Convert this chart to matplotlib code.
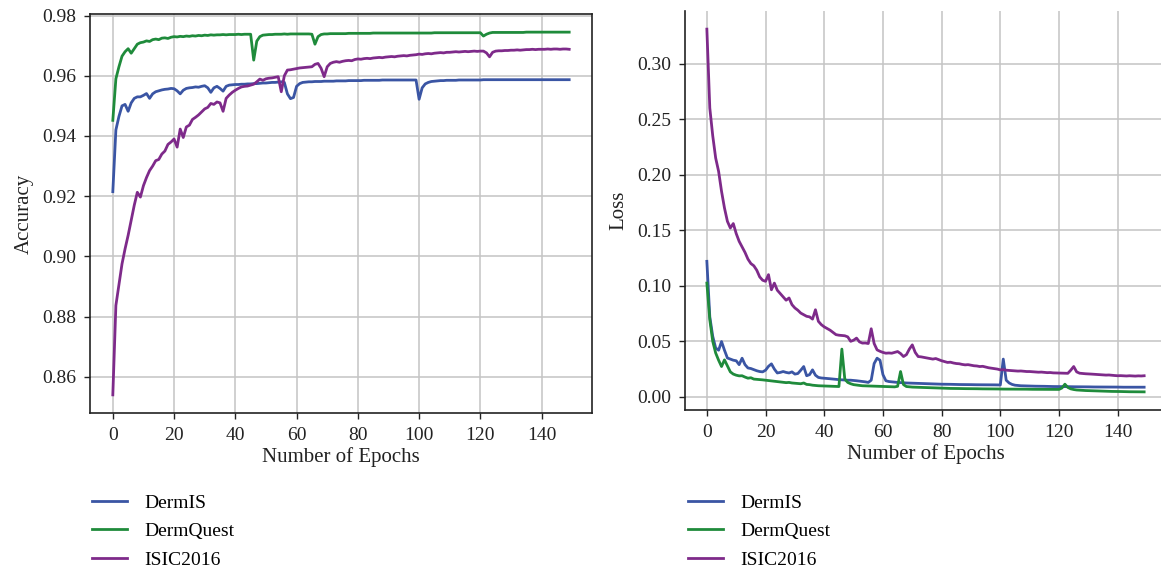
import matplotlib
matplotlib.use("Agg")
import matplotlib.pyplot as plt
import numpy as np

plt.rcParams['font.family'] = ['Liberation Serif', 'DejaVu Serif']

epochs = list(range(150))
series_names = ["DermIS", "DermQuest", "ISIC2016"]
series_colors = ["#3a55a4", "#1f8b3b", "#7e2a8a"]
x_ticks = [0, 20, 40, 60, 80, 100, 120, 140]
acc_ticks = [0.86, 0.88, 0.90, 0.92, 0.94, 0.96, 0.98]
loss_ticks = [0.00, 0.05, 0.10, 0.15, 0.20, 0.25, 0.30]

acc_dermis = [
    0.9215, 0.9420, 0.9465, 0.9500, 0.9505, 0.9482, 0.9510, 0.9525, 0.9530, 0.9530,
    0.9535, 0.9541, 0.9525, 0.9540, 0.9547, 0.9550, 0.9553, 0.9555, 0.9556, 0.9558,
    0.9557, 0.9550, 0.9540, 0.9552, 0.9558, 0.9560, 0.9561, 0.9563, 0.9562, 0.9565,
    0.9567, 0.9560, 0.9545, 0.9560, 0.9565, 0.9558, 0.9549, 0.9565, 0.9569, 0.9570,
    0.9571, 0.9571, 0.9572, 0.9572, 0.9573, 0.9573, 0.9574, 0.9574, 0.9575, 0.9576,
    0.9576, 0.9577, 0.9578, 0.9578, 0.9579, 0.9580, 0.9578, 0.9540, 0.9524, 0.9528,
    0.9565, 0.9574, 0.9578, 0.9579, 0.9580, 0.9580, 0.9581, 0.9581, 0.9581, 0.9582,
    0.9582, 0.9582, 0.9582, 0.9583, 0.9583, 0.9583, 0.9583, 0.9584, 0.9584, 0.9584,
    0.9584, 0.9584, 0.9585, 0.9585, 0.9585, 0.9585, 0.9585, 0.9585, 0.9586, 0.9586,
    0.9586, 0.9586, 0.9586, 0.9586, 0.9586, 0.9586, 0.9586, 0.9586, 0.9586, 0.9586,
    0.9522, 0.9560, 0.9573, 0.9578, 0.9581, 0.9582, 0.9583, 0.9584, 0.9584, 0.9585,
    0.9585, 0.9585, 0.9585, 0.9586, 0.9586, 0.9586, 0.9586, 0.9586, 0.9586, 0.9586,
    0.9586, 0.9587, 0.9587, 0.9587, 0.9587, 0.9587, 0.9587, 0.9587, 0.9587, 0.9587,
    0.9587, 0.9587, 0.9587, 0.9587, 0.9587, 0.9587, 0.9587, 0.9587, 0.9587, 0.9587,
    0.9587, 0.9587, 0.9587, 0.9587, 0.9587, 0.9587, 0.9587, 0.9587, 0.9587, 0.9587,
]

acc_dermquest = [
    0.9452, 0.9590, 0.9630, 0.9665, 0.9680, 0.9690, 0.9675, 0.9690, 0.9705, 0.9710,
    0.9712, 0.9716, 0.9714, 0.9720, 0.9722, 0.9720, 0.9725, 0.9726, 0.9724, 0.9728,
    0.9730, 0.9729, 0.9731, 0.9730, 0.9732, 0.9731, 0.9733, 0.9732, 0.9734, 0.9733,
    0.9735, 0.9734, 0.9736, 0.9735, 0.9736, 0.9736, 0.9737, 0.9736, 0.9737, 0.9737,
    0.9737, 0.9738, 0.9737, 0.9738, 0.9738, 0.9738, 0.9652, 0.9715, 0.9730, 0.9735,
    0.9736, 0.9737, 0.9737, 0.9738, 0.9738, 0.9738, 0.9739, 0.9738, 0.9739, 0.9739,
    0.9739, 0.9739, 0.9739, 0.9739, 0.9739, 0.9738, 0.9705, 0.9730, 0.9737, 0.9739,
    0.9739, 0.9740, 0.9740, 0.9740, 0.9740, 0.9740, 0.9740, 0.9741, 0.9741, 0.9741,
    0.9741, 0.9741, 0.9741, 0.9741, 0.9741, 0.9742, 0.9742, 0.9742, 0.9742, 0.9742,
    0.9742, 0.9742, 0.9742, 0.9742, 0.9742, 0.9742, 0.9742, 0.9742, 0.9742, 0.9742,
    0.9742, 0.9742, 0.9742, 0.9742, 0.9742, 0.9743, 0.9743, 0.9743, 0.9743, 0.9743,
    0.9743, 0.9743, 0.9743, 0.9743, 0.9743, 0.9743, 0.9743, 0.9743, 0.9743, 0.9743,
    0.9743, 0.9732, 0.9738, 0.9742, 0.9744, 0.9744, 0.9744, 0.9744, 0.9744, 0.9744,
    0.9744, 0.9744, 0.9744, 0.9744, 0.9744, 0.9745, 0.9745, 0.9745, 0.9745, 0.9745,
    0.9745, 0.9745, 0.9745, 0.9745, 0.9745, 0.9745, 0.9745, 0.9745, 0.9745, 0.9745,
]

acc_isic = [
    0.8540, 0.8837, 0.8905, 0.8975, 0.9025, 0.9070, 0.9120, 0.9170, 0.9213, 0.9197,
    0.9235, 0.9262, 0.9285, 0.9300, 0.9318, 0.9322, 0.9340, 0.9350, 0.9372, 0.9380,
    0.9390, 0.9363, 0.9423, 0.9395, 0.9430, 0.9436, 0.9455, 0.9462, 0.9470, 0.9480,
    0.9490, 0.9495, 0.9508, 0.9505, 0.9513, 0.9510, 0.9482, 0.9525, 0.9536, 0.9545,
    0.9552, 0.9558, 0.9563, 0.9565, 0.9566, 0.9569, 0.9572, 0.9580, 0.9589, 0.9585,
    0.9590, 0.9592, 0.9593, 0.9595, 0.9597, 0.9547, 0.9600, 0.9619, 0.9620, 0.9622,
    0.9624, 0.9626, 0.9627, 0.9628, 0.9629, 0.9630, 0.9638, 0.9641, 0.9625, 0.9597,
    0.9630, 0.9641, 0.9645, 0.9647, 0.9645, 0.9648, 0.9650, 0.9651, 0.9650, 0.9654,
    0.9656, 0.9655, 0.9657, 0.9658, 0.9657, 0.9659, 0.9660, 0.9661, 0.9660, 0.9662,
    0.9663, 0.9664, 0.9663, 0.9665, 0.9666, 0.9667, 0.9666, 0.9668, 0.9669, 0.9670,
    0.9672, 0.9671, 0.9673, 0.9674, 0.9673, 0.9675, 0.9676, 0.9677, 0.9676, 0.9678,
    0.9678, 0.9679, 0.9680, 0.9679, 0.9680, 0.9681, 0.9680, 0.9681, 0.9682, 0.9681,
    0.9682, 0.9682, 0.9676, 0.9663, 0.9678, 0.9682, 0.9683, 0.9683, 0.9684, 0.9684,
    0.9685, 0.9685, 0.9686, 0.9685, 0.9686, 0.9687, 0.9687, 0.9688, 0.9687, 0.9688,
    0.9688, 0.9688, 0.9689, 0.9688, 0.9689, 0.9689, 0.9688, 0.9689, 0.9689, 0.9688,
]

loss_dermis = [
    0.1220, 0.0720, 0.0545, 0.0440, 0.0420, 0.0498, 0.0420, 0.0350, 0.0340, 0.0330,
    0.0325, 0.0290, 0.0348, 0.0290, 0.0260, 0.0255, 0.0245, 0.0235, 0.0228, 0.0225,
    0.0240, 0.0275, 0.0297, 0.0250, 0.0215, 0.0220, 0.0228, 0.0220, 0.0215, 0.0225,
    0.0205, 0.0210, 0.0240, 0.0273, 0.0190, 0.0200, 0.0243, 0.0195, 0.0175, 0.0170,
    0.0168, 0.0165, 0.0163, 0.0160, 0.0158, 0.0155, 0.0153, 0.0152, 0.0150, 0.0150,
    0.0148, 0.0145, 0.0142, 0.0140, 0.0135, 0.0130, 0.0150, 0.0300, 0.0348, 0.0330,
    0.0200, 0.0145, 0.0138, 0.0135, 0.0133, 0.0130, 0.0128, 0.0127, 0.0125, 0.0124,
    0.0123, 0.0122, 0.0121, 0.0120, 0.0119, 0.0118, 0.0117, 0.0116, 0.0115, 0.0115,
    0.0114, 0.0114, 0.0113, 0.0113, 0.0112, 0.0112, 0.0111, 0.0111, 0.0110, 0.0110,
    0.0110, 0.0109, 0.0109, 0.0109, 0.0108, 0.0108, 0.0108, 0.0108, 0.0108, 0.0107,
    0.0107, 0.0340, 0.0150, 0.0125, 0.0112, 0.0105, 0.0102, 0.0100, 0.0099, 0.0098,
    0.0097, 0.0097, 0.0096, 0.0096, 0.0095, 0.0095, 0.0094, 0.0094, 0.0093, 0.0093,
    0.0093, 0.0092, 0.0092, 0.0092, 0.0091, 0.0091, 0.0091, 0.0090, 0.0090, 0.0090,
    0.0090, 0.0089, 0.0089, 0.0089, 0.0089, 0.0088, 0.0088, 0.0088, 0.0088, 0.0088,
    0.0088, 0.0087, 0.0087, 0.0087, 0.0087, 0.0087, 0.0087, 0.0087, 0.0087, 0.0087,
]

loss_dermquest = [
    0.1024, 0.0694, 0.0500, 0.0395, 0.0330, 0.0273, 0.0333, 0.0280, 0.0225, 0.0205,
    0.0195, 0.0189, 0.0190, 0.0178, 0.0168, 0.0172, 0.0160, 0.0158, 0.0155, 0.0153,
    0.0150, 0.0148, 0.0145, 0.0140, 0.0138, 0.0135, 0.0133, 0.0128, 0.0130, 0.0125,
    0.0123, 0.0120, 0.0118, 0.0125, 0.0112, 0.0110, 0.0105, 0.0102, 0.0100, 0.0099,
    0.0098, 0.0097, 0.0096, 0.0095, 0.0094, 0.0093, 0.0430, 0.0160, 0.0130, 0.0118,
    0.0110, 0.0106, 0.0103, 0.0100, 0.0099, 0.0098, 0.0097, 0.0096, 0.0095, 0.0094,
    0.0093, 0.0092, 0.0092, 0.0091, 0.0090, 0.0095, 0.0228, 0.0110, 0.0093, 0.0090,
    0.0088, 0.0087, 0.0086, 0.0085, 0.0084, 0.0083, 0.0082, 0.0081, 0.0080, 0.0079,
    0.0078, 0.0077, 0.0077, 0.0076, 0.0076, 0.0075, 0.0075, 0.0074, 0.0074, 0.0074,
    0.0073, 0.0073, 0.0073, 0.0072, 0.0072, 0.0072, 0.0071, 0.0071, 0.0071, 0.0071,
    0.0070, 0.0070, 0.0070, 0.0070, 0.0069, 0.0069, 0.0069, 0.0069, 0.0069, 0.0069,
    0.0068, 0.0068, 0.0068, 0.0068, 0.0068, 0.0068, 0.0068, 0.0067, 0.0067, 0.0067,
    0.0067, 0.0080, 0.0114, 0.0085, 0.0072, 0.0066, 0.0062, 0.0060, 0.0058, 0.0057,
    0.0056, 0.0055, 0.0054, 0.0053, 0.0052, 0.0051, 0.0050, 0.0050, 0.0049, 0.0049,
    0.0048, 0.0048, 0.0047, 0.0047, 0.0046, 0.0046, 0.0046, 0.0045, 0.0045, 0.0045,
]

loss_isic = [
    0.3310, 0.2600, 0.2350, 0.2150, 0.2030, 0.1850, 0.1700, 0.1580, 0.1520, 0.1560,
    0.1470, 0.1400, 0.1350, 0.1300, 0.1240, 0.1200, 0.1180, 0.1140, 0.1080, 0.1050,
    0.1040, 0.1100, 0.0964, 0.1024, 0.0960, 0.0930, 0.0900, 0.0870, 0.0890, 0.0830,
    0.0800, 0.0780, 0.0754, 0.0740, 0.0725, 0.0720, 0.0700, 0.0784, 0.0680, 0.0650,
    0.0630, 0.0615, 0.0600, 0.0580, 0.0560, 0.0555, 0.0552, 0.0550, 0.0540, 0.0500,
    0.0510, 0.0529, 0.0495, 0.0484, 0.0485, 0.0480, 0.0613, 0.0480, 0.0423, 0.0410,
    0.0400, 0.0393, 0.0395, 0.0393, 0.0400, 0.0408, 0.0390, 0.0363, 0.0380, 0.0430,
    0.0468, 0.0400, 0.0363, 0.0360, 0.0355, 0.0350, 0.0345, 0.0340, 0.0345, 0.0335,
    0.0325, 0.0318, 0.0310, 0.0312, 0.0305, 0.0300, 0.0298, 0.0292, 0.0288, 0.0290,
    0.0285, 0.0280, 0.0278, 0.0273, 0.0275, 0.0268, 0.0262, 0.0258, 0.0255, 0.0250,
    0.0243, 0.0245, 0.0240, 0.0238, 0.0236, 0.0235, 0.0232, 0.0233, 0.0230, 0.0228,
    0.0228, 0.0226, 0.0225, 0.0222, 0.0223, 0.0220, 0.0218, 0.0219, 0.0216, 0.0215,
    0.0213, 0.0214, 0.0212, 0.0212, 0.0240, 0.0273, 0.0225, 0.0213, 0.0210, 0.0208,
    0.0207, 0.0205, 0.0203, 0.0202, 0.0200, 0.0198, 0.0196, 0.0197, 0.0194, 0.0192,
    0.0190, 0.0191, 0.0189, 0.0188, 0.0190, 0.0189, 0.0187, 0.0189, 0.0188, 0.0190,
]

W, H = 1161, 569
fig = plt.figure(figsize=(W / 100, H / 100), dpi=100)

def px_axes(x0, y0, x1, y1):
    return fig.add_axes([x0 / W, 1 - y1 / H, (x1 - x0) / W, (y1 - y0) / H])

ax1 = px_axes(90, 14, 592, 413)
ax2 = px_axes(685, 11, 1166, 410)

FS = 14
grid_color = "#c4c4c4"

def style(ax, yticks, yfmt, ylabel, right_open=False):
    ax.set_xticks(x_ticks)
    ax.set_yticks(yticks)
    ax.set_yticklabels([yfmt.format(v) for v in yticks])
    ax.grid(True, color=grid_color, linewidth=1.1)
    ax.set_axisbelow(True)
    ax.tick_params(axis="both", direction="out", length=4, width=1.0,
                   labelsize=FS, colors="#222222", pad=6)
    ax.set_xlabel("Number of Epochs", fontsize=FS + 1, color="#222222", labelpad=2)
    ax.set_ylabel(ylabel, fontsize=FS + 1, color="#222222", labelpad=6)
    for s in ax.spines.values():
        s.set_color("#222222")
        s.set_linewidth(1.2)
    if right_open:
        ax.spines["top"].set_visible(False)
        ax.spines["right"].set_visible(False)

acc_series = [acc_dermis, acc_dermquest, acc_isic]
loss_series = [loss_dermis, loss_dermquest, loss_isic]

for name, col, ys in zip(series_names, series_colors, acc_series):
    ax1.plot(epochs, ys, color=col, linewidth=2.0, label=name)
for name, col, ys in zip(series_names, series_colors, loss_series):
    ax2.plot(epochs, ys, color=col, linewidth=2.0, label=name)

style(ax1, acc_ticks, "{:.2f}", "Accuracy")
style(ax2, loss_ticks, "{:.2f}", "Loss", right_open=True)

for ax, lx in [(ax1, 92), (ax2, 688)]:
    leg = ax.legend(loc="upper left", bbox_to_anchor=(lx / W, 1 - 494 / H),
                    bbox_transform=fig.transFigure, frameon=False, fontsize=FS,
                    borderpad=0, borderaxespad=0, handlelength=1.8,
                    handletextpad=0.9, labelspacing=0.56)
    for h in leg.get_lines():
        h.set_linewidth(2.0)

fig.savefig("out.png", dpi=100)
